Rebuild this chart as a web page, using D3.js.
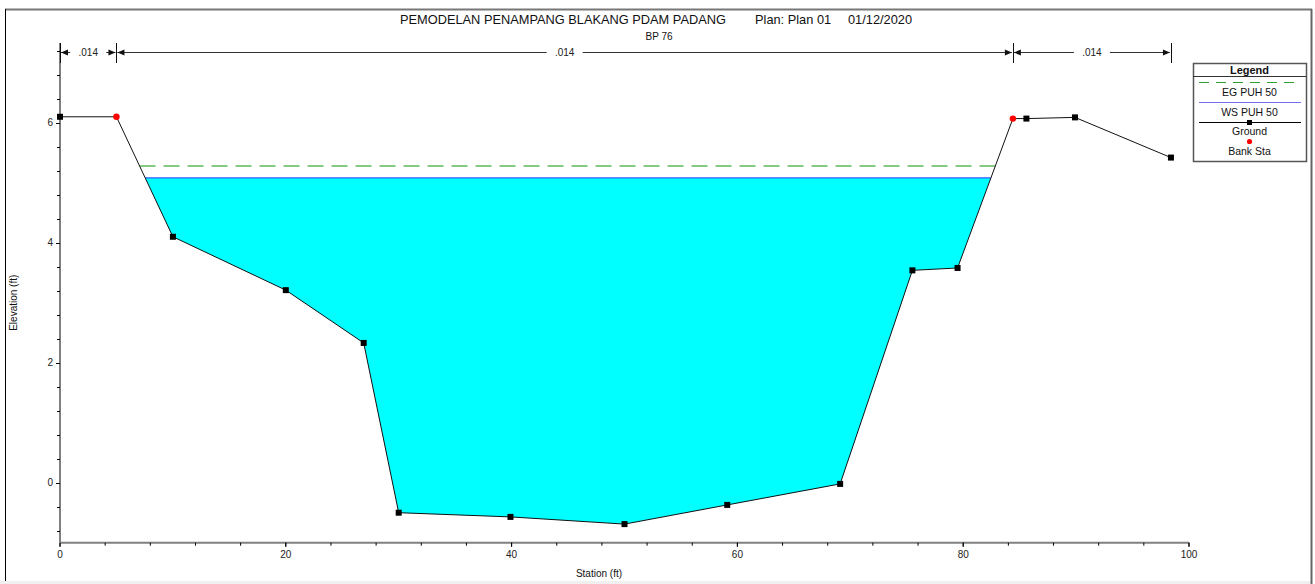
<!DOCTYPE html>
<html>
<head>
<meta charset="utf-8">
<script src="https://d3js.org/d3.v7.min.js"></script>
<style>
  html, body { margin: 0; padding: 0; background: #fff; }
  svg { display: block; font-family: "Liberation Sans", Arial, sans-serif; }
</style>
</head>
<body>
<svg id="chart" width="1315" height="584"></svg>
<script>
// Cross section BP 76: station (ft) and ground elevation (ft)
const stations   = [0, 5, 10, 20, 26.9, 30, 39.9, 50, 59.1, 69.1, 75.5, 79.5, 84.4, 85.6, 89.9, 98.4];
const elevations = [6.1, 6.1, 4.1, 3.21, 2.33, -0.5, -0.57, -0.69, -0.37, -0.02, 3.54, 3.58, 6.07, 6.07, 6.09, 5.42];
// Bank stations (indices into the ground arrays)
const bankIdx = [1, 12];
// Water surface and energy grade elevations for PUH 50
const wsElev = 5.08;
const egElev = 5.28;
// Manning's n reaches between breaks
const nBreaks = [0, 5, 84.4, 98.4];
const nValues = [".014", ".014", ".014"];
// Axis ticks
const xLabelTicks = [0, 20, 40, 60, 80, 100];
const yLabelTicks = [0, 2, 4, 6];
const legendItems = ["EG PUH 50", "WS PUH 50", "Ground", "Bank Sta"];
const titleParts = ["PEMODELAN PENAMPANG BLAKANG PDAM PADANG", "Plan: Plan 01", "01/12/2020"];

const svg = d3.select("#chart");

const x = d3.scaleLinear().domain([0, 100]).range([60, 1189]);
const y = d3.scaleLinear().domain([-1, 7.33]).range([542.7, 43]);

const ground = stations.map((s, i) => ({s, e: elevations[i]}));

// window frame
svg.append("rect").attr("x", 0).attr("y", 581).attr("width", 1312).attr("height", 3).attr("fill", "#f0f0f0");
svg.append("line").attr("x1", 5).attr("x2", 1312).attr("y1", 9.5).attr("y2", 9.5).attr("stroke", "#777").attr("stroke-width", 2);
svg.append("line").attr("x1", 5.5).attr("x2", 5.5).attr("y1", 9).attr("y2", 581).attr("stroke", "#000").attr("stroke-width", 1);
svg.append("line").attr("x1", 1311.5).attr("x2", 1311.5).attr("y1", 9).attr("y2", 584).attr("stroke", "#666").attr("stroke-width", 2);

// where a level crosses the ground on each side of the channel
function crossings(level) {
  let left = null, right = null;
  for (let i = 0; i < ground.length - 1; i++) {
    const a = ground[i], b = ground[i + 1];
    if ((a.e - level) * (b.e - level) <= 0 && a.e !== b.e) {
      const t = (level - a.e) / (b.e - a.e);
      const s = a.s + t * (b.s - a.s);
      if (left === null && a.e > b.e) left = {s, i};
      if (a.e < b.e) right = {s, i};
    }
  }
  return [left, right];
}

// water polygon
const [wl, wr] = crossings(wsElev);
const waterPts = [{s: wl.s, e: wsElev}];
for (let i = wl.i + 1; i <= wr.i; i++) waterPts.push(ground[i]);
waterPts.push({s: wr.s, e: wsElev});
svg.append("path")
  .attr("d", d3.line().x(d => x(d.s)).y(d => y(d.e))(waterPts) + "Z")
  .attr("fill", "#00ffff");

// water surface line
svg.append("line")
  .attr("x1", x(wl.s)).attr("x2", x(wr.s))
  .attr("y1", y(wsElev)).attr("y2", y(wsElev))
  .attr("stroke", "#2f5cff").attr("stroke-width", 1.3);

// energy grade line
const [el, er] = crossings(egElev);
svg.append("line")
  .attr("x1", x(el.s)).attr("x2", x(er.s))
  .attr("y1", y(egElev)).attr("y2", y(egElev))
  .attr("stroke", "#5fb85a").attr("stroke-width", 1.5)
  .attr("stroke-dasharray", "16,8");

// axes
const gx = svg.append("g").attr("transform", `translate(0,${y(-1)})`);
gx.append("line").attr("x1", x(0)).attr("x2", x(100)).attr("y1", 0).attr("y2", 0)
  .attr("stroke", "#808080").attr("stroke-width", 2);
gx.selectAll("line.tk").data(d3.range(0, 101, 4).concat(xLabelTicks)).join("line")
  .attr("class", "tk")
  .attr("x1", d => x(d)).attr("x2", d => x(d)).attr("y1", 0).attr("y2", d => d % 20 === 0 ? 4 : 3)
  .attr("stroke", "#000").attr("stroke-width", 1);
gx.selectAll("text").data(xLabelTicks).join("text")
  .attr("x", d => x(d)).attr("y", 15.5)
  .attr("text-anchor", "middle").attr("font-size", 10).attr("fill", "#222")
  .text(d => d);

const gy = svg.append("g").attr("transform", `translate(${x(0)},0)`);
gy.append("line").attr("x1", 0).attr("x2", 0).attr("y1", y(7.33)).attr("y2", y(-1))
  .attr("stroke", "#808080").attr("stroke-width", 2);
gy.selectAll("line.tk").data(d3.range(-0.8, 7.3, 0.4)).join("line")
  .attr("class", "tk")
  .attr("x1", -3).attr("x2", 0).attr("y1", d => Math.round(y(d)) + 0.5).attr("y2", d => Math.round(y(d)) + 0.5)
  .attr("stroke", "#000").attr("stroke-width", 1);
gy.selectAll("line.mj").data(yLabelTicks).join("line")
  .attr("class", "mj")
  .attr("x1", -4).attr("x2", 0).attr("y1", d => Math.round(y(d)) + 0.5).attr("y2", d => Math.round(y(d)) + 0.5)
  .attr("stroke", "#000").attr("stroke-width", 1);
gy.selectAll("text").data(yLabelTicks).join("text")
  .attr("x", -7).attr("y", d => y(d) + 3.5)
  .attr("text-anchor", "end").attr("font-size", 10).attr("fill", "#222")
  .text(d => d);

// axis titles
svg.append("text").attr("x", 599).attr("y", 577).attr("text-anchor", "middle")
  .attr("font-size", 10).attr("fill", "#111").text("Station (ft)");
svg.append("text").attr("transform", `translate(17,${y(3)}) rotate(-90)`).attr("text-anchor", "middle")
  .attr("font-size", 10).attr("fill", "#111").text("Elevation (ft)");

// ground line and points
svg.append("path")
  .attr("d", d3.line().x(d => x(d.s)).y(d => y(d.e))(ground))
  .attr("fill", "none").attr("stroke", "#111").attr("stroke-width", 1);
svg.selectAll("rect.pt").data(ground.filter((d, i) => !bankIdx.includes(i))).join("rect")
  .attr("class", "pt")
  .attr("x", d => x(d.s) - 3).attr("y", d => y(d.e) - 3)
  .attr("width", 6).attr("height", 6).attr("fill", "#000");
svg.selectAll("circle.bank").data(bankIdx.map(i => ground[i])).join("circle")
  .attr("class", "bank")
  .attr("cx", d => x(d.s)).attr("cy", d => y(d.e)).attr("r", 3.2).attr("fill", "#ff0000");

// Manning's n reaches
const ny = 52.5;
const gn = svg.append("g");
gn.selectAll("line.brk").data(nBreaks).join("line")
  .attr("class", "brk")
  .attr("x1", d => Math.round(x(d)) + 0.5).attr("x2", d => Math.round(x(d)) + 0.5)
  .attr("y1", 43).attr("y2", 63)
  .attr("stroke", "#111").attr("stroke-width", 1);
nValues.forEach((v, i) => {
  const a = x(nBreaks[i]) + 1, b = x(nBreaks[i + 1]) - 1;
  const mid = (a + b) / 2;
  const halfGap = 18;
  gn.append("line").attr("x1", a).attr("x2", mid - halfGap).attr("y1", ny).attr("y2", ny)
    .attr("stroke", "#333").attr("stroke-width", 1);
  gn.append("line").attr("x1", mid + halfGap).attr("x2", b).attr("y1", ny).attr("y2", ny)
    .attr("stroke", "#333").attr("stroke-width", 1);
  gn.append("path").attr("d", `M${a},${ny}l7,-3l0,6z`).attr("fill", "#111");
  gn.append("path").attr("d", `M${b},${ny}l-7,-3l0,6z`).attr("fill", "#111");
  gn.append("text").attr("x", mid).attr("y", ny + 3.5).attr("text-anchor", "middle")
    .attr("font-size", 10).attr("fill", "#222").text(v);
});

// title
const titleX = [400, 755, 848];
svg.selectAll("text.title").data(titleParts).join("text")
  .attr("class", "title")
  .attr("x", (d, i) => titleX[i]).attr("y", 24)
  .attr("font-size", 12.8).attr("fill", "#111").text(d => d);
svg.append("text").attr("x", 659).attr("y", 39.5).attr("text-anchor", "middle")
  .attr("font-size", 10).attr("fill", "#111").text("BP 76");

// legend
const lg = svg.append("g");
const lx = 1193, lw = 113, ly = 63, lh = 98;
lg.append("rect").attr("x", lx + 0.5).attr("y", ly + 0.5).attr("width", lw).attr("height", lh)
  .attr("fill", "#fff").attr("stroke", "#555").attr("stroke-width", 1.5);
lg.append("line").attr("x1", lx).attr("x2", lx + lw).attr("y1", ly + 13.5).attr("y2", ly + 13.5)
  .attr("stroke", "#333").attr("stroke-width", 1);
lg.append("text").attr("x", lx + lw / 2).attr("y", ly + 10.5).attr("text-anchor", "middle")
  .attr("font-size", 11).attr("font-weight", "bold").attr("fill", "#111").text("Legend");
const l0 = lx + 6, l1 = lx + lw - 5, cx = lx + lw / 2;
lg.append("line").attr("x1", l0).attr("x2", l1).attr("y1", 82.5).attr("y2", 82.5)
  .attr("stroke", "#2fa02f").attr("stroke-width", 1.2).attr("stroke-dasharray", "10,7");
lg.append("line").attr("x1", l0).attr("x2", l1).attr("y1", 102.5).attr("y2", 102.5)
  .attr("stroke", "#7070ee").attr("stroke-width", 1.2);
lg.append("line").attr("x1", l0).attr("x2", l1).attr("y1", 122.5).attr("y2", 122.5)
  .attr("stroke", "#000").attr("stroke-width", 1);
lg.append("rect").attr("x", cx - 2.5).attr("y", 120).attr("width", 5).attr("height", 5).attr("fill", "#000");
lg.append("circle").attr("cx", cx).attr("cy", 141.5).attr("r", 2.6).attr("fill", "#ff0000");
const ty = [95.5, 115.5, 134.5, 155];
lg.selectAll("text.it").data(legendItems).join("text")
  .attr("class", "it")
  .attr("x", cx).attr("y", (d, i) => ty[i]).attr("text-anchor", "middle")
  .attr("font-size", 10.5).attr("fill", "#111").text(d => d);
</script>
</body>
</html>
